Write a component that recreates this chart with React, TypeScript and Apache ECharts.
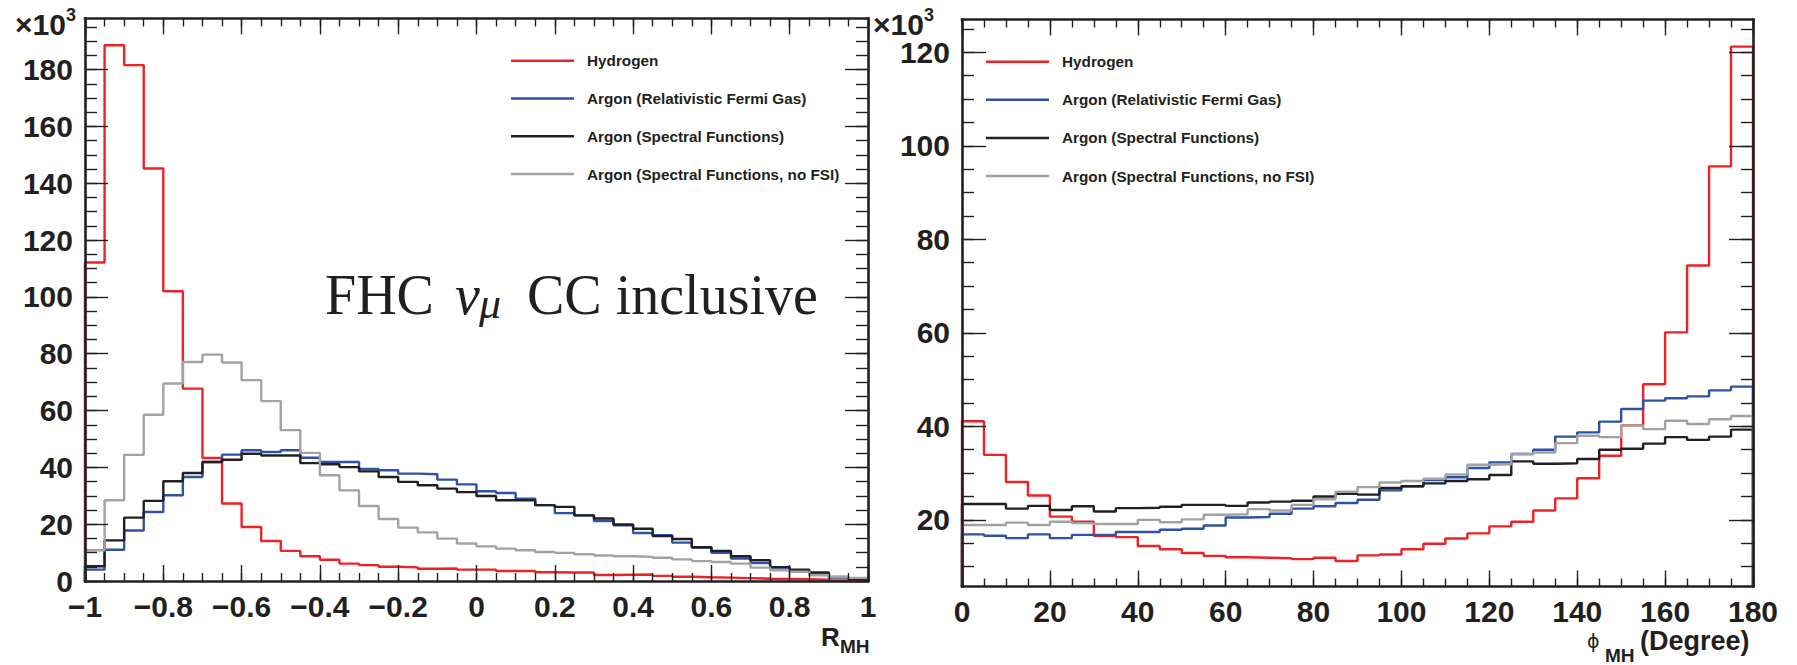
import React, { useEffect, useRef } from "react";
import * as echarts from "echarts";

// ---------- binning (histogram bin edges) ----------
const rEdges = [
  -1, -0.95, -0.9, -0.85, -0.8, -0.75, -0.7, -0.65, -0.6, -0.55, -0.5, -0.45, -0.4, -0.35,
  -0.3, -0.25, -0.2, -0.15, -0.1, -0.05, 0, 0.05, 0.1, 0.15, 0.2, 0.25, 0.3, 0.35, 0.4,
  0.45, 0.5, 0.55, 0.6, 0.65, 0.7, 0.75, 0.8, 0.85, 0.9, 0.95, 1,
];
const phiEdges = [
  0, 5, 10, 15, 20, 25, 30, 35, 40, 45, 50, 55, 60, 65, 70, 75, 80, 85, 90, 95, 100, 105,
  110, 115, 120, 125, 130, 135, 140, 145, 150, 155, 160, 165, 170, 175, 180,
];

// ---------- left panel: R_MH (x10^3 events per bin) ----------
const hydrogenR = [
  112.1, 188.6, 181.6, 145.2, 102.0, 67.7, 43.3, 27.3, 19.0, 14.1, 10.6, 8.7, 7.5, 6.1,
  5.6, 5.0, 4.8, 4.3, 4.4, 4.0, 4.0, 3.5, 3.5, 3.1, 3.0, 3.0, 2.1, 2.2, 2.3, 1.8, 1.5,
  1.3, 1.2, 1.0, 0.8, 0.7, 0.6, 0.5, 0.2, 0.1,
];
const rfgR = [
  4.0, 11.0, 17.8, 24.3, 30.2, 36.6, 41.9, 44.5, 46.0, 45.4, 46.0, 43.4, 41.9, 41.9, 39.4,
  39.0, 37.8, 37.6, 35.7, 34.0, 31.6, 31.0, 29.0, 26.7, 23.9, 23.1, 21.1, 19.6, 16.9, 16.1,
  13.5, 11.8, 9.9, 7.9, 6.3, 4.7, 3.2, 2.3, 1.2, 0.8,
];
const sfR = [
  5.2, 14.3, 22.3, 28.2, 35.1, 38.0, 41.9, 42.7, 44.8, 44.2, 44.2, 41.5, 41.1, 40.1, 38.6,
  36.6, 34.9, 33.7, 32.5, 31.3, 29.9, 28.4, 28.4, 26.7, 26.1, 23.1, 22.0, 19.9, 18.4, 15.8,
  14.8, 11.9, 10.6, 8.7, 7.3, 4.9, 4.0, 3.0, 1.4, 0.8,
];
const sfNoFsiR = [
  10.8, 28.4, 44.4, 58.5, 69.5, 77.1, 79.7, 76.9, 70.7, 63.3, 53.1, 45.1, 37.2, 31.9, 26.4,
  21.8, 18.8, 17.1, 14.9, 13.2, 12.2, 11.4, 10.8, 10.2, 9.9, 9.4, 9.0, 8.7, 8.5, 8.2, 7.6,
  7.0, 6.7, 6.1, 4.7, 3.8, 3.2, 2.0, 1.4, 1.1,
];

// ---------- right panel: phi_MH (x10^3 events per bin) ----------
const hydrogenPhi = [
  41.1, 33.9, 28.1, 25.2, 20.7, 19.6, 16.6, 16.3, 14.4, 13.7, 12.9, 12.3, 12.0, 11.9, 11.8,
  11.6, 11.9, 11.2, 12.4, 12.6, 13.7, 14.9, 16.0, 17.1, 18.6, 19.6, 22.0, 24.6, 28.9, 33.7,
  40.2, 49.0, 60.1, 74.4, 95.6, 121.2,
];
const rfgPhi = [
  16.9, 16.6, 16.1, 16.9, 16.1, 16.8, 16.8, 17.4, 17.4, 17.9, 18.1, 18.8, 20.5, 20.6, 21.3,
  22.4, 22.9, 23.6, 24.3, 26.3, 27.2, 28.5, 29.1, 31.1, 32.3, 34.1, 35.0, 37.8, 38.7, 41.0,
  43.7, 45.5, 46.0, 46.4, 47.7, 48.5,
];
const sfPhi = [
  23.4, 23.4, 22.4, 23.0, 22.1, 22.9, 21.8, 22.5, 22.6, 22.8, 23.2, 23.2, 23.0, 23.7, 23.9,
  24.1, 25.0, 25.6, 25.4, 26.8, 27.2, 27.8, 28.3, 28.7, 29.6, 32.5, 32.0, 32.1, 33.0, 35.0,
  35.2, 36.3, 37.7, 37.1, 37.8, 39.3,
];
const sfNoFsiPhi = [
  18.9, 18.9, 19.4, 18.9, 19.6, 19.3, 19.1, 19.1, 20.0, 19.5, 20.1, 21.1, 21.2, 22.3, 22.0,
  23.2, 24.4, 26.0, 27.0, 28.0, 28.3, 28.8, 29.7, 31.8, 31.9, 34.1, 34.4, 36.4, 38.0, 37.7,
  40.2, 39.4, 41.2, 40.5, 41.5, 42.2,
];

// ---------- tick labels ----------
const rTickLabels = [-1, -0.8, -0.6, -0.4, -0.2, 0, 0.2, 0.4, 0.6, 0.8, 1];
const rCountLabels = [0, 20, 40, 60, 80, 100, 120, 140, 160, 180];
const phiTickLabels = [0, 20, 40, 60, 80, 100, 120, 140, 160, 180];
const phiCountLabels = [20, 40, 60, 80, 100, 120];

const seriesNames = [
  "Hydrogen",
  "Argon (Relativistic Fermi Gas)",
  "Argon (Spectral Functions)",
  "Argon (Spectral Functions, no FSI)",
];
const seriesColors = ["#ec2227", "#2e52a4", "#231f20", "#a2a2a2"];

// axis ranges
const R_X = [-1, 1];
const R_Y = [0, 198];
const PHI_X = [0, 180];
const PHI_Y = [5.75, 127];

const SANS = '"Liberation Sans", Arial, Helvetica, sans-serif';
const SERIF = '"Liberation Serif", "Times New Roman", serif';
const AX = "#231f20";

function steps(min: number, max: number, step: number): number[] {
  const out: number[] = [];
  const n = Math.round((max - min) / step);
  for (let i = 0; i <= n; i++) out.push(Math.round((min + i * step) * 1000) / 1000);
  return out;
}

function panelAxes(
  dim: "x" | "y",
  gridIndex: number,
  range: number[],
  majors: number[],
  minors: number[],
  majorLen: number,
  minorLen: number,
  label: any
) {
  const [p1, p2] = dim === "x" ? ["bottom", "top"] : ["left", "right"];
  const base = (position: string, showLine: boolean, len: number, values: number[], lbl: any) => ({
    gridIndex,
    type: "value",
    min: range[0],
    max: range[1],
    position,
    silent: true,
    z: 5,
    axisLine: { show: showLine, onZero: false, lineStyle: { color: AX, width: 2.6, cap: "square" } },
    axisTick: { show: true, inside: true, length: len, customValues: values, lineStyle: { color: AX, width: 1.4 } },
    axisLabel: lbl ? lbl : { show: false },
    splitLine: { show: false },
    minorTick: { show: false },
    minorSplitLine: { show: false },
    axisPointer: { show: false },
  });
  return [
    base(p1, true, majorLen, majors, label),
    base(p1, false, minorLen, minors, null),
    base(p2, true, majorLen, majors, null),
    base(p2, false, minorLen, minors, null),
  ];
}

const labelBase = {
  show: true,
  fontSize: 30,
  fontWeight: "bold",
  fontFamily: SANS,
  color: AX,
};

function fmtSigned(v: number): string {
  const a = Number(Math.abs(v).toFixed(1)).toString();
  if (Math.abs(v) < 1e-9) return "0";
  return v < 0 ? "\u2212" + a : a;
}

function histData(edges: number[], vals: number[], base: number) {
  const d: number[][] = [[edges[0], base]];
  edges.forEach((e, i) => d.push([e, vals[Math.min(i, vals.length - 1)]]));
  d.push([edges[edges.length - 1], base]);
  return d;
}

function txt(text: string, x: number, y: number, size: number, o: any = {}) {
  const style: any = {
    text,
    fontSize: size,
    fontWeight: o.weight ?? "bold",
    fontFamily: o.family ?? SANS,
    fontStyle: o.style ?? "normal",
    fill: AX,
    textAlign: "left",
    textVerticalAlign: "top",
    align: "left",
    verticalAlign: "top",
  };
  if (o.lineHeight) style.lineHeight = o.lineHeight;
  return { type: "text", x, y, silent: true, style };
}

export default function App() {
  const ref = useRef<HTMLDivElement>(null);
  useEffect(() => {
    if (!ref.current) return;
    const chart = echarts.init(ref.current, null, { renderer: "svg" });

    const leftX = panelAxes("x", 0, R_X, rTickLabels, steps(-1, 1, 0.05), 16, 8, {
      ...labelBase,
      customValues: rTickLabels,
      margin: 10,
      formatter: (v: number) => fmtSigned(v),
    });
    const rightX = panelAxes("x", 1, PHI_X, phiTickLabels, steps(0, 180, 5), 16, 8, {
      ...labelBase,
      customValues: phiTickLabels,
      margin: 10,
      formatter: (v: number) => String(Math.round(v)),
    });
    const leftY = panelAxes("y", 0, R_Y, rCountLabels, steps(0, 195, 5), 23, 12, {
      ...labelBase,
      customValues: rCountLabels,
      margin: 12,
      formatter: (v: number) => String(Math.round(v)),
    });
    const rightY = panelAxes("y", 1, PHI_Y, phiCountLabels, steps(10, 125, 5), 24, 12, {
      ...labelBase,
      customValues: phiCountLabels,
      margin: 12,
      formatter: (v: number) => String(Math.round(v)),
    });

    const leftVals = [hydrogenR, rfgR, sfR, sfNoFsiR];
    const rightVals = [hydrogenPhi, rfgPhi, sfPhi, sfNoFsiPhi];

    const mk = (name: string, color: string, data: number[][], axisIdx: number) => ({
      name,
      type: "line",
      step: "end",
      xAxisIndex: axisIdx,
      yAxisIndex: axisIdx,
      data,
      symbol: "none",
      showSymbol: false,
      clip: true,
      silent: true,
      lineStyle: { color, width: 2.4 },
      itemStyle: { color },
      emphasis: { disabled: true },
    });

    const series: any[] = [];
    seriesNames.forEach((n, i) => series.push(mk(n, seriesColors[i], histData(rEdges, leftVals[i], R_Y[0]), 0)));
    seriesNames.forEach((n, i) => series.push(mk(n, seriesColors[i], histData(phiEdges, rightVals[i], PHI_Y[0]), 4)));

    const legendBase = {
      data: seriesNames,
      orient: "vertical",
      icon: "rect",
      itemWidth: 63,
      itemHeight: 2.5,
      padding: 0,
      selectedMode: false,
      textStyle: {
        fontSize: 15.3,
        fontWeight: "bold",
        fontFamily: SANS,
        color: AX,
        lineHeight: 20,
        padding: [0, 0, 0, 8],
      },
    };

    chart.setOption({
      animation: false,
      backgroundColor: "#ffffff",
      grid: [
        { left: 85, top: 18.5, width: 783, height: 562.5 },
        { left: 962, top: 19.5, width: 791, height: 567 },
      ],
      xAxis: [...leftX, ...rightX],
      yAxis: [...leftY, ...rightY],
      legend: [
        { ...legendBase, left: 511, top: 50.7, itemGap: 17.8 },
        { ...legendBase, left: 986, top: 51.7, itemGap: 18.1 },
      ],
      series,
      graphic: [
        // x10^3 multipliers
        txt("\u00d710", 15, 9.5, 30),
        txt("3", 66, 5.5, 18),
        txt("\u00d710", 873, 9.5, 30),
        txt("3", 924, 5.5, 18),
        // left axis title R_MH
        txt("R", 821, 623.6, 26),
        txt("MH", 840, 637, 19),
        // right axis title phi_MH (Degree)
        txt("\u03d5", 1587, 633.9, 19, { weight: "normal", family: '"DejaVu Sans", sans-serif', lineHeight: 14 }),
        txt("MH", 1605, 645.5, 19),
        txt("(Degree)", 1640, 627, 27),
        // annotation
        txt("FHC", 325, 267.2, 56, { weight: "normal", family: SERIF }),
        txt("\u03bd", 455, 267.2, 56, { weight: "normal", family: SERIF, style: "italic" }),
        txt("\u03bc", 479, 281.5, 44, { weight: "normal", family: SERIF, style: "italic" }),
        txt("CC inclusive", 527, 267.2, 56, { weight: "normal", family: SERIF }),
      ],
    });

    return () => chart.dispose();
  }, []);

  return (
    <div
      ref={ref}
      style={{ position: "fixed", left: 0, top: 0, width: 1797, height: 665, background: "#fff" }}
    />
  );
}
